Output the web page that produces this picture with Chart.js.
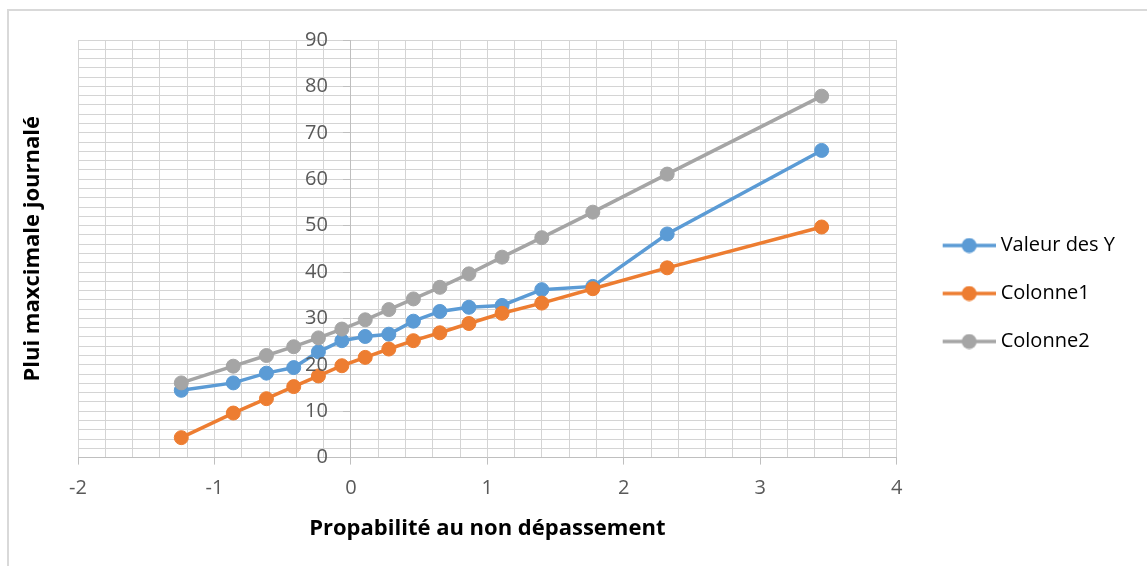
<!DOCTYPE html>
<html>
<head>
<meta charset="utf-8">
<script src="https://cdn.jsdelivr.net/npm/chart.js"></script>
<style>
  html, body { margin: 0; padding: 0; background: #fff; }
  #frame { position: absolute; left: 7px; top: 9px; width: 1200px; height: 600px;
           border-top: 2px solid #d9d9d9; border-left: 2px solid #d9d9d9; }
  #wrap { position: absolute; left: 0; top: 0; width: 1147px; height: 566px; }
</style>
</head>
<body>
<div id="frame"></div>
<div id="wrap"><canvas id="myChart"></canvas></div>
<script>
const probabilite = [-1.243, -0.862, -0.619, -0.419, -0.238, -0.066, 0.105, 0.278, 0.458, 0.652, 0.865, 1.108, 1.399, 1.773, 2.318, 3.450];
const valeurDesY = [14.5, 16.1, 18.2, 19.4, 22.8, 25.2, 26.1, 26.6, 29.4, 31.5, 32.4, 32.8, 36.2, 36.9, 48.2, 66.2];
const colonne1 = [4.3, 9.6, 12.7, 15.3, 17.6, 19.8, 21.6, 23.4, 25.2, 26.9, 28.9, 31.1, 33.3, 36.4, 40.9, 49.7];
const colonne2 = [16.1, 19.7, 22.0, 23.9, 25.8, 27.7, 29.7, 31.9, 34.2, 36.7, 39.6, 43.2, 47.4, 52.9, 61.1, 77.9];
const seriesNames = ['Valeur des Y', 'Colonne1', 'Colonne2'];
const seriesColors = ['#5b9bd5', '#ed7d31', '#a5a5a5'];

const FONT = '"Open Sans", Lato, sans-serif';

function points(ys) {
  return probabilite.map((x, i) => ({ x: x, y: ys[i] }));
}

// petite image "ligne + rond" pour la légende (partie gauche transparente = écart avec le graphe)
function legendIcon(color) {
  const c = document.createElement('canvas');
  c.width = 76; c.height = 16;
  const g = c.getContext('2d');
  g.strokeStyle = color; g.lineWidth = 3.5;
  g.beginPath(); g.moveTo(23, 8); g.lineTo(76, 8); g.stroke();
  g.fillStyle = color;
  g.beginPath(); g.arc(49.5, 8, 7.5, 0, Math.PI * 2); g.fill();
  return c;
}

const isWhole = (v, step) => Math.abs(v / step - Math.round(v / step)) < 1e-6;

// titre vertical + étiquettes de l'axe Y (l'axe passe par x = 0)
const yAxisText = {
  id: 'yAxisText',
  afterDraw(chart) {
    const g = chart.ctx;
    const ys = chart.scales.y;
    const x0 = chart.scales.x.getPixelForValue(0);
    g.save();
    g.font = '20px ' + FONT;
    g.fillStyle = '#595959';
    g.textAlign = 'right';
    g.textBaseline = 'middle';
    ys.ticks.forEach(t => {
      if (isWhole(t.value, 10)) g.fillText(String(Math.round(t.value)), x0 - 23, ys.getPixelForValue(t.value));
    });
    g.translate(33, (chart.chartArea.top + chart.chartArea.bottom) / 2);
    g.rotate(-Math.PI / 2);
    g.font = 'bold 22px ' + FONT;
    g.fillStyle = '#000';
    g.textAlign = 'center';
    g.fillText('Plui maxcimale journalé', 0, 0);
    g.restore();
  }
};

const datasets = [valeurDesY, colonne1, colonne2].map((ys, i) => ({
  label: seriesNames[i],
  data: points(ys),
  borderColor: seriesColors[i],
  backgroundColor: seriesColors[i],
  borderWidth: 3.5,
  pointRadius: 7,
  pointHoverRadius: 7,
  pointBorderWidth: 1,
  showLine: true,
  order: 2 - i
}));

new Chart(document.getElementById('myChart'), {
  type: 'scatter',
  data: { datasets: datasets },
  options: {
    responsive: true,
    maintainAspectRatio: false,
    animation: false,
    layout: { padding: { left: 78, top: 40, right: 22, bottom: 19 } },
    plugins: {
      tooltip: { enabled: false },
      legend: {
        position: 'right',
        labels: {
          usePointStyle: true,
          pointStyleWidth: 66,
          padding: 28,
          color: '#000',
          font: { family: FONT, size: 20 },
          sort: (a, b) => a.datasetIndex - b.datasetIndex,
          generateLabels(chart) {
            const items = Chart.defaults.plugins.legend.labels.generateLabels(chart);
            items.forEach(it => { it.pointStyle = legendIcon(seriesColors[it.datasetIndex]); });
            return items;
          }
        }
      }
    },
    scales: {
      x: {
        type: 'linear',
        min: -2, max: 4,
        border: { color: '#bfbfbf', width: 1 },
        grid: {
          color: '#d4d4d4',
          tickLength: 7,
          tickColor: ctx => isWhole(ctx.tick.value, 1) ? '#bfbfbf' : 'rgba(0,0,0,0)'
        },
        ticks: {
          stepSize: 0.2,
          autoSkip: false,
          maxRotation: 0,
          padding: 12,
          color: '#595959',
          font: { family: FONT, size: 20 },
          callback: v => isWhole(v, 1) ? String(Math.round(v)) : ''
        },
        title: {
          display: true,
          text: 'Propabilité au non dépassement',
          color: '#000',
          font: { family: FONT, size: 22, weight: 'bold' },
          padding: { top: 3, bottom: 5 }
        }
      },
      y: {
        type: 'linear',
        position: { x: 0 },
        min: 0, max: 90,
        border: { color: '#bfbfbf', width: 1 },
        grid: {
          color: '#d4d4d4',
          tickLength: 7,
          tickColor: ctx => isWhole(ctx.tick.value, 10) ? '#bfbfbf' : 'rgba(0,0,0,0)'
        },
        ticks: {
          stepSize: 2,
          autoSkip: false,
          display: false
        }
      }
    }
  },
  plugins: [yAxisText]
});
</script>
</body>
</html>
